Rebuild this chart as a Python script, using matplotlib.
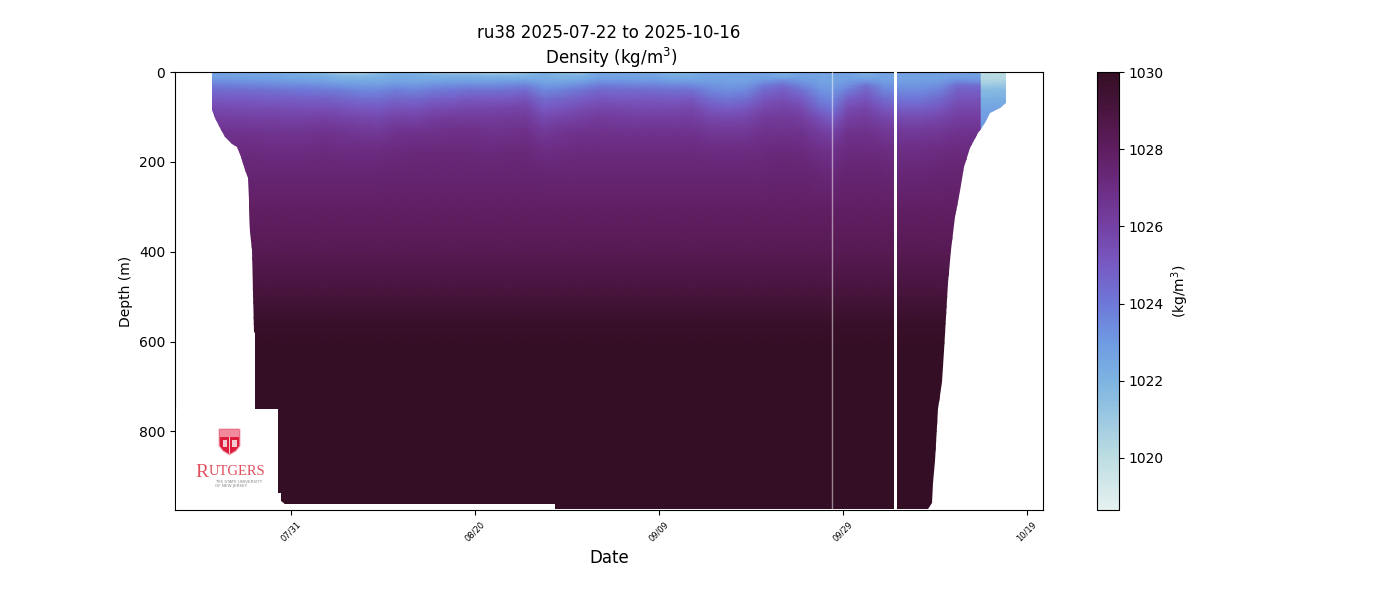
import numpy as np
import matplotlib
matplotlib.use("Agg")
import matplotlib.pyplot as plt
import matplotlib.dates as mdates
from matplotlib.colors import LinearSegmentedColormap
from matplotlib.patches import Polygon, Rectangle

# days relative to 2025-07-31, one profile per column, density minus 1000
profile_days = [-8.6, -6.5, -4.5, -2.5, -0.5, 1.5, 3.5, 5.5, 7.5, 9.5, 11.5, 13.5,
                15.5, 17.5, 19.5, 21.5, 23.5, 25.5, 27.5, 29.5, 31.5, 33.5, 35.5,
                37.5, 39.5, 41.5, 43.5, 45.5, 47.5, 49.5, 51.5, 53.5, 55.5, 57.5,
                58.8, 60.5, 62.5, 64.5, 66.5, 68.5, 70.5, 72.5, 74.4, 74.95, 75.05, 77.8]
upper_depths = [0, 10, 20, 30, 40, 60, 80, 100, 130, 170, 220]
upper_density = [
    [22.6, 22.7, 23.3, 23.9, 24.4, 25.1, 25.6, 26.1, 26.6, 27.0, 27.4],
    [22.5, 22.7, 23.2, 23.8, 24.3, 25.0, 25.6, 26.0, 26.6, 27.0, 27.4],
    [22.5, 22.6, 23.1, 23.7, 24.3, 25.0, 25.5, 26.0, 26.6, 27.1, 27.4],
    [22.3, 22.6, 23.0, 23.6, 24.2, 24.9, 25.5, 26.0, 26.5, 27.0, 27.4],
    [22.2, 22.5, 22.9, 23.5, 24.1, 24.9, 25.4, 25.9, 26.5, 27.0, 27.4],
    [22.0, 22.4, 22.8, 23.5, 24.0, 24.8, 25.4, 25.9, 26.5, 27.0, 27.4],
    [21.7, 22.3, 22.7, 23.3, 23.9, 24.8, 25.4, 26.0, 26.6, 27.1, 27.4],
    [21.0, 21.9, 22.5, 23.1, 23.8, 24.6, 25.3, 25.8, 26.5, 27.0, 27.4],
    [20.7, 21.8, 22.5, 22.9, 23.5, 24.4, 25.1, 25.7, 26.4, 27.0, 27.4],
    [21.7, 22.1, 22.4, 22.9, 23.5, 24.3, 25.0, 25.6, 26.3, 27.0, 27.4],
    [22.2, 22.4, 22.6, 23.2, 23.8, 24.6, 25.3, 25.9, 26.6, 27.1, 27.5],
    [22.0, 22.3, 22.5, 23.0, 23.6, 24.5, 25.2, 25.8, 26.6, 27.2, 27.5],
    [21.5, 22.2, 22.6, 23.3, 23.9, 24.8, 25.5, 26.1, 26.7, 27.2, 27.5],
    [21.2, 22.2, 22.7, 23.4, 24.0, 24.9, 25.6, 26.2, 26.8, 27.2, 27.5],
    [21.2, 22.2, 22.7, 23.5, 24.2, 25.1, 25.7, 26.2, 26.8, 27.2, 27.5],
    [20.9, 22.1, 22.7, 23.4, 24.1, 25.1, 25.7, 26.2, 26.7, 27.1, 27.5],
    [20.9, 22.0, 22.8, 23.5, 24.2, 25.1, 25.8, 26.3, 26.7, 27.2, 27.5],
    [21.5, 22.1, 22.8, 23.7, 24.4, 25.3, 25.9, 26.3, 26.8, 27.2, 27.5],
    [22.2, 22.3, 22.5, 23.0, 23.5, 24.4, 25.0, 25.6, 26.3, 26.9, 27.4],
    [21.7, 22.0, 22.5, 23.1, 23.7, 24.6, 25.2, 25.8, 26.5, 27.0, 27.4],
    [21.4, 22.1, 22.6, 23.4, 24.1, 24.9, 25.5, 26.0, 26.6, 27.1, 27.4],
    [22.5, 22.6, 23.1, 23.9, 24.5, 25.2, 25.7, 26.2, 26.7, 27.1, 27.4],
    [22.5, 22.6, 23.1, 23.8, 24.4, 25.1, 25.7, 26.1, 26.6, 27.1, 27.4],
    [22.4, 22.6, 23.0, 23.7, 24.4, 25.1, 25.6, 26.1, 26.6, 27.1, 27.4],
    [22.3, 22.6, 23.0, 23.7, 24.3, 25.1, 25.6, 26.1, 26.6, 27.1, 27.4],
    [21.9, 22.3, 22.8, 23.5, 24.2, 25.0, 25.6, 26.1, 26.6, 27.1, 27.4],
    [22.0, 22.4, 22.8, 23.5, 24.2, 25.1, 25.7, 26.1, 26.6, 27.1, 27.4],
    [22.6, 22.6, 22.8, 23.2, 23.6, 24.4, 25.1, 25.7, 26.4, 27.0, 27.4],
    [22.6, 22.6, 22.7, 23.0, 23.3, 24.1, 24.9, 25.6, 26.4, 27.0, 27.4],
    [22.6, 22.6, 22.7, 23.1, 23.5, 24.3, 25.1, 25.7, 26.4, 27.0, 27.4],
    [22.6, 22.6, 23.1, 24.0, 24.5, 25.2, 25.7, 26.2, 26.7, 27.1, 27.4],
    [22.1, 22.4, 23.5, 24.4, 24.8, 25.4, 25.9, 26.3, 26.7, 27.2, 27.5],
    [22.6, 22.7, 23.0, 23.6, 24.2, 25.0, 25.6, 26.1, 26.6, 27.1, 27.5],
    [22.6, 22.6, 22.7, 22.9, 23.2, 23.8, 24.5, 25.3, 26.1, 26.8, 27.3],
    [22.6, 22.6, 22.6, 22.8, 23.0, 23.5, 24.1, 24.8, 25.8, 26.7, 27.2],
    [22.6, 22.7, 22.9, 23.3, 23.8, 24.8, 25.5, 26.0, 26.6, 27.1, 27.5],
    [22.0, 22.4, 23.1, 24.2, 24.7, 25.3, 25.8, 26.2, 26.7, 27.1, 27.5],
    [22.6, 22.6, 22.8, 23.2, 23.6, 24.4, 25.1, 25.7, 26.4, 27.0, 27.4],
    [22.7, 22.7, 22.8, 23.1, 23.4, 24.1, 24.8, 25.5, 26.3, 26.9, 27.3],
    [22.7, 22.7, 22.8, 23.1, 23.4, 24.1, 24.8, 25.5, 26.3, 26.9, 27.3],
    [22.7, 22.7, 22.9, 23.3, 23.7, 24.5, 25.1, 25.7, 26.4, 27.0, 27.4],
    [22.7, 22.8, 23.4, 24.4, 24.8, 25.3, 25.7, 26.1, 26.6, 27.1, 27.5],
    [22.7, 22.8, 23.2, 24.3, 24.8, 25.3, 25.7, 26.1, 26.6, 27.1, 27.5],
    [22.7, 22.8, 23.2, 24.3, 24.8, 25.3, 25.7, 26.1, 26.6, 27.1, 27.5],
    [20.1, 20.2, 20.4, 21.0, 21.7, 22.2, 22.6, 22.9, 23.0, 23.0, 23.0],
    [20.1, 20.2, 20.5, 21.1, 21.7, 22.2, 22.6, 22.9, 23.0, 23.0, 23.0],
]
# below 220 m the picture shows no change along the track
deep_depths = [300, 400, 500, 560, 620, 800, 975]
deep_density = [27.9, 28.4, 29.2, 29.8, 30.1, 30.5, 30.5]

# outline of the sampled section, (day, depth)
edge_days = [-8.6, -8.6, -8.26, -7.72, -7.17, -6.41, -5.87, -5.43, -5.0, -4.67, -4.57,
             -4.46, -4.24, -4.08, -4.02, -3.86, -3.86, -1.09, -1.09, -0.65, 28.7, 28.7,
             69.3, 69.67, 69.84, 70.0, 70.33, 70.76, 70.98, 71.2, 71.41, 71.74, 72.17,
             72.72, 73.15, 73.8, 74.67, 75.43, 75.98, 77.07, 77.72, 77.72]
edge_depths = [0, 85, 102, 125, 145, 160, 167, 190, 218, 235, 285,
               357, 396, 492, 578, 580, 937, 937, 955, 961, 961, 972,
               972, 960, 915, 865, 750, 690, 620, 545, 470, 396, 322,
               265, 212, 170, 135, 113, 92, 80, 70, 0]
gap_days = [65.6, 65.93]
thin_gap_day = 58.8

tick_dates = ["2025-07-31", "2025-08-20", "2025-09-09", "2025-09-29", "2025-10-19"]
cbar_ticks = [1020, 1022, 1024, 1026, 1028, 1030]

# colormap (position, rgb)
cmap_stops = [(0.0, "#e6f1f1"), (0.12, "#bcdde2"), (0.295, "#7db4e2"), (0.383, "#6f9ae2"),
              (0.47, "#6e78d8"), (0.56, "#775ac3"), (0.65, "#7540a3"), (0.735, "#6c2d84"),
              (0.82, "#601e62"), (0.91, "#4a1540"), (1.0, "#340e24")]
dense_like = LinearSegmentedColormap.from_list("dense_like", cmap_stops)

base = mdates.date2num(np.datetime64("2025-07-31"))
x = base + np.array(profile_days)
depths = np.array(upper_depths + deep_depths)
upper = np.array(upper_density).T
deep = np.tile(np.array(deep_density)[:, None], (1, len(profile_days)))
density = 1000 + np.vstack([upper, deep])

fig = plt.figure(figsize=(14, 6), dpi=100, facecolor="white")
ax = fig.add_axes([0.125, 0.15, 0.62, 0.73])

mesh = ax.pcolormesh(x, depths, density, shading="gouraud", cmap=dense_like,
                     vmin=1018.65, vmax=1030)
outline = Polygon(np.column_stack([base + np.array(edge_days), edge_depths]),
                  closed=True, transform=ax.transData, facecolor="none", edgecolor="none")
ax.add_patch(outline)
mesh.set_clip_path(outline)

ax.axvspan(base + gap_days[0], base + gap_days[1], color="white", lw=0, zorder=3)
ax.axvline(base + thin_gap_day, color="white", lw=1, alpha=0.5, zorder=3)

ax.set_xlim(base - 12.6, base + 81.75)
ax.set_ylim(975, 0)
ax.set_xticks(mdates.date2num(np.array(tick_dates, dtype="datetime64[D]")))
ax.xaxis.set_major_formatter(mdates.DateFormatter("%m/%d"))
ax.tick_params(axis="x", labelsize=6, labelrotation=45)
ax.set_xlabel("Date", fontsize=12)
ax.set_ylabel("Depth (m)")
ax.set_title("ru38 2025-07-22 to 2025-10-16\n Density (kg/m$^3$)", fontsize=12)

cax = fig.add_axes([1097 / 1400, 0.15, 22 / 1400, 0.73])
cbar = fig.colorbar(mesh, cax=cax)
cbar.set_ticks(cbar_ticks)
cbar.set_label("(kg/m$^3$)")

# logo sits on its own white box, drawn in pixel coordinates of the figure
logo = fig.add_axes([176 / 1400, 91 / 600, 102 / 1400, 100 / 600], zorder=5)
logo.set_xlim(176, 278)
logo.set_ylim(509, 409)
logo.axis("off")
logo.add_patch(Rectangle((176, 409), 102, 84, color="white", lw=0))
logo.add_patch(Rectangle((176, 493), 105, 16, color="white", lw=0, clip_on=False))
red = "#dc1e3c"
shield = [(219, 429), (240, 429), (240, 446), (236, 451), (229.5, 455), (223, 451), (219, 446)]
logo.add_patch(Polygon(shield, closed=True, facecolor=red, edgecolor="#f3b6c0", lw=0.8))
logo.add_patch(Rectangle((220, 430), 19, 7, facecolor="#f08a9c", lw=0))
logo.add_patch(Rectangle((229, 437), 1, 17, facecolor="#f7c9d1", lw=0))
logo.add_patch(Rectangle((223, 440), 4, 7, facecolor="#f7c9d1", lw=0))
logo.add_patch(Rectangle((232, 440), 5, 7, facecolor="#f7c9d1", lw=0))
logo.text(195.5, 477, "R", family="Liberation Serif", fontsize=14, color="#e0505f", va="baseline")
logo.text(209, 475, "UTGERS", family="Liberation Serif", fontsize=10.5, color="#e0505f", va="baseline")
logo.text(215, 483, "THE STATE UNIVERSITY", fontsize=3, color="#888888", va="baseline")
logo.text(215, 487, "OF NEW JERSEY", fontsize=3, color="#888888", va="baseline")

fig.savefig("out.png", dpi=100, facecolor="white")
